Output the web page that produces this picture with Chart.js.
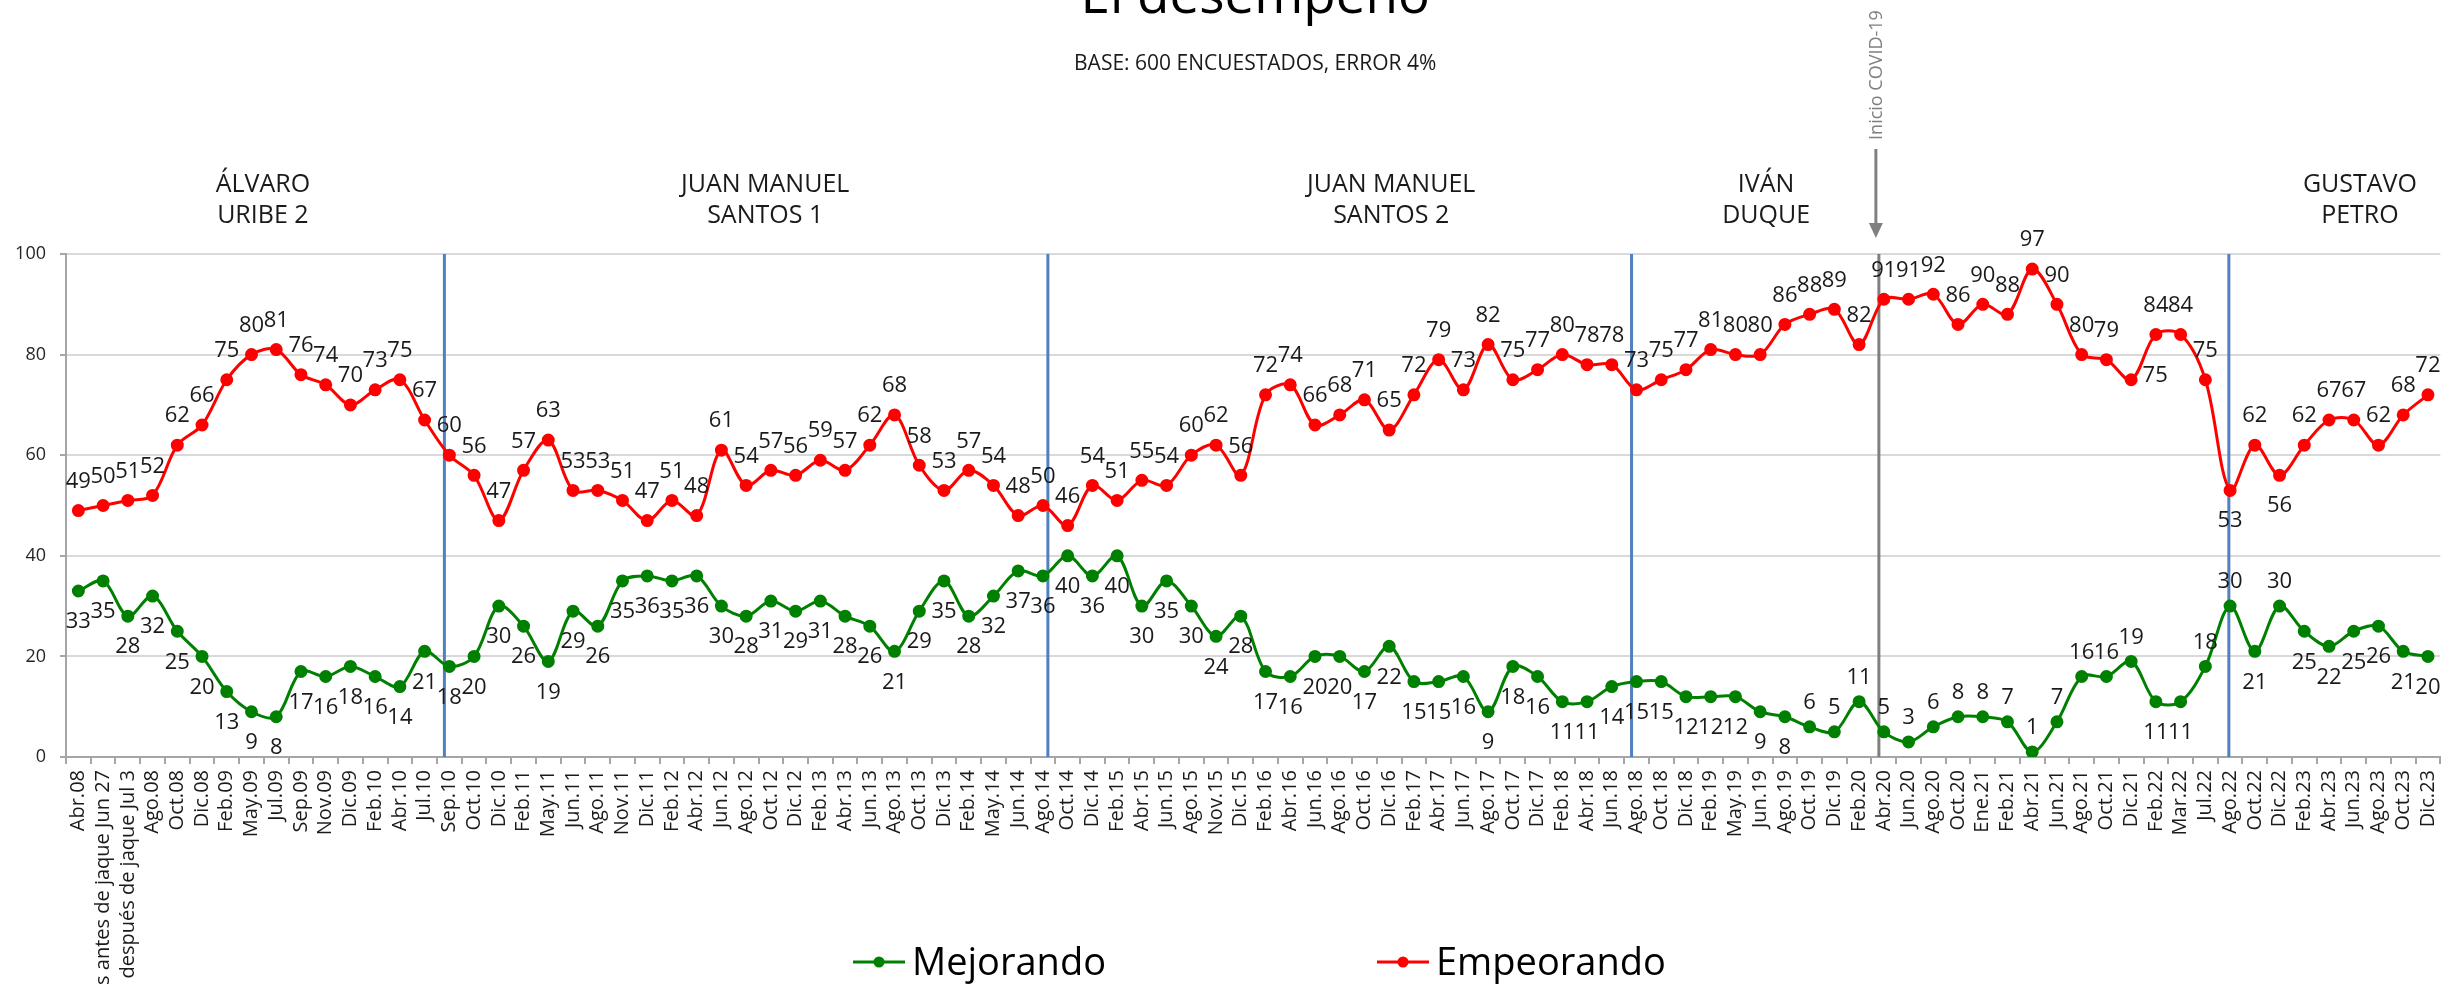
<!DOCTYPE html>
<html lang="es">
<head>
<meta charset="utf-8">
<title>El desempeño</title>
<script src="https://cdn.jsdelivr.net/npm/chart.js@4"></script>
<style>
    html, body { margin: 0; padding: 0; background: #fff; }
    #wrap { position: relative; width: 2458px; height: 984px; }
</style>
</head>
<body>
<div id="wrap"><canvas id="desempenoChart"></canvas></div>
<script>
// Survey dates (categories)
const fechas = [
    'Abr.08', 'Días antes de jaque Jun 27', 'Días después de jaque Jul 3', 'Ago.08', 'Oct.08', 'Dic.08',
    'Feb.09', 'May.09', 'Jul.09', 'Sep.09', 'Nov.09', 'Dic.09', 'Feb.10', 'Abr.10', 'Jul.10',
    'Sep.10', 'Oct.10', 'Dic.10', 'Feb.11', 'May.11', 'Jun.11', 'Ago.11', 'Nov.11', 'Dic.11',
    'Feb.12', 'Abr.12', 'Jun.12', 'Ago.12', 'Oct.12', 'Dic.12', 'Feb.13', 'Abr.13', 'Jun.13',
    'Ago.13', 'Oct.13', 'Dic.13', 'Feb.14', 'May.14', 'Jun.14', 'Ago.14', 'Oct.14', 'Dic.14',
    'Feb.15', 'Abr.15', 'Jun.15', 'Ago.15', 'Nov.15', 'Dic.15', 'Feb.16', 'Abr.16', 'Jun.16',
    'Ago.16', 'Oct.16', 'Dic.16', 'Feb.17', 'Abr.17', 'Jun.17', 'Ago.17', 'Oct.17', 'Dic.17',
    'Feb.18', 'Abr.18', 'Jun.18', 'Ago.18', 'Oct.18', 'Dic.18', 'Feb.19', 'May.19', 'Jun.19',
    'Ago.19', 'Oct.19', 'Dic.19', 'Feb.20', 'Abr.20', 'Jun.20', 'Ago.20', 'Oct.20', 'Ene.21',
    'Feb.21', 'Abr.21', 'Jun.21', 'Ago.21', 'Oct.21', 'Dic.21', 'Feb.22', 'Mar.22', 'Jul.22',
    'Ago.22', 'Oct.22', 'Dic.22', 'Feb.23', 'Abr.23', 'Jun.23', 'Ago.23', 'Oct.23', 'Dic.23'
];

// % que cree que las cosas van mejorando
const mejorando = [
    33, 35, 28, 32, 25, 20, 13, 9, 8, 17, 16, 18, 16, 14, 21,
    18, 20, 30, 26, 19, 29, 26, 35, 36, 35, 36, 30, 28, 31, 29,
    31, 28, 26, 21, 29, 35, 28, 32, 37, 36, 40, 36, 40, 30, 35,
    30, 24, 28, 17, 16, 20, 20, 17, 22, 15, 15, 16, 9, 18, 16,
    11, 11, 14, 15, 15, 12, 12, 12, 9, 8, 6, 5, 11, 5, 3,
    6, 8, 8, 7, 1, 7, 16, 16, 19, 11, 11, 18, 30, 21, 30,
    25, 22, 25, 26, 21, 20
];

// % que cree que las cosas van empeorando
const empeorando = [
    49, 50, 51, 52, 62, 66, 75, 80, 81, 76, 74, 70, 73, 75, 67,
    60, 56, 47, 57, 63, 53, 53, 51, 47, 51, 48, 61, 54, 57, 56,
    59, 57, 62, 68, 58, 53, 57, 54, 48, 50, 46, 54, 51, 55, 54,
    60, 62, 56, 72, 74, 66, 68, 71, 65, 72, 79, 73, 82, 75, 77,
    80, 78, 78, 73, 75, 77, 81, 80, 80, 86, 88, 89, 82, 91, 91,
    92, 86, 90, 88, 97, 90, 80, 79, 75, 84, 84, 75, 53, 62, 56,
    62, 67, 67, 62, 68, 72
];

const yTicks = [0, 20, 40, 60, 80, 100];

// Government periods, placed on the category axis (fractional index)
const presidentes = [
    { lineas: ['ÁLVARO', 'URIBE 2'], en: 7.46 },
    { lineas: ['JUAN MANUEL', 'SANTOS 1'], en: 27.77 },
    { lineas: ['JUAN MANUEL', 'SANTOS 2'], en: 53.08 },
    { lineas: ['IVÁN', 'DUQUE'], en: 68.24 },
    { lineas: ['GUSTAVO', 'PETRO'], en: 92.25 }
];
const cambiosGobierno = [14.8, 39.2, 62.8, 86.95];
const inicioCovid = 72.8;

// Data label placement exceptions
const rojoAbajo = [87, 89];
const rojoDerecha = [83];
const verdeArriba = [70, 71, 72, 73, 74, 75, 76, 77, 78, 79, 80, 81, 82, 83, 86, 87, 89];

const FONT = "'Open Sans', 'DejaVu Sans', sans-serif";
const VERDE = '#008000';
const ROJO = '#ff0000';

Chart.defaults.font.family = FONT;

const anotaciones = {
    id: 'anotaciones',
    beforeDatasetsDraw(chart) {
        const { ctx, chartArea, scales: { x } } = chart;
        ctx.save();
        ctx.lineWidth = 3;
        ctx.strokeStyle = '#4f81bd';
        cambiosGobierno.forEach(pos => {
            const px = x.getPixelForValue(pos);
            ctx.beginPath();
            ctx.moveTo(px, chartArea.top);
            ctx.lineTo(px, chartArea.bottom);
            ctx.stroke();
        });
        ctx.strokeStyle = '#808080';
        const cx = x.getPixelForValue(inicioCovid);
        ctx.beginPath();
        ctx.moveTo(cx, chartArea.top);
        ctx.lineTo(cx, chartArea.bottom);
        ctx.stroke();
        ctx.restore();
    },
    afterDatasetsDraw(chart) {
        const { ctx } = chart;
        ctx.save();
        ctx.font = '22px ' + FONT;
        ctx.fillStyle = '#1a1a1a';
        ctx.textAlign = 'center';
        ctx.textBaseline = 'middle';
        chart.data.datasets.forEach((ds, i) => {
            const meta = chart.getDatasetMeta(i);
            const esRojo = ds.borderColor === ROJO;
            meta.data.forEach((pt, j) => {
                let dx = 0, dy;
                if (esRojo) {
                    dy = -29;
                    if (rojoAbajo.includes(j)) dy = 30;
                    if (rojoDerecha.includes(j)) { dx = 24; dy = -4; }
                } else {
                    dy = verdeArriba.includes(j) ? -24 : 31;
                }
                ctx.fillText(String(ds.data[j]), pt.x + dx, pt.y + dy);
            });
        });
        ctx.restore();
    },
    afterDraw(chart) {
        const { ctx, chartArea, scales: { x } } = chart;
        const centro = (chartArea.left + chartArea.right) / 2 + 2;
        ctx.save();
        ctx.textAlign = 'center';
        ctx.textBaseline = 'alphabetic';

        // Title (partly above the page) and subtitle
        ctx.fillStyle = '#000';
        ctx.font = '53px ' + FONT;
        ctx.fillText('El desempeño', centro, 13);
        ctx.fillStyle = '#1a1a1a';
        ctx.font = '21px ' + FONT;
        ctx.fillText('BASE: 600 ENCUESTADOS, ERROR 4%', centro, 70);

        // Presidents
        ctx.font = '25px ' + FONT;
        presidentes.forEach(p => {
            const px = x.getPixelForValue(p.en);
            ctx.fillText(p.lineas[0], px, 192);
            ctx.fillText(p.lineas[1], px, 223);
        });

        // COVID marker: rotated text and arrow
        const cx = x.getPixelForValue(inicioCovid) - 3;
        ctx.fillStyle = '#808080';
        ctx.strokeStyle = '#808080';
        ctx.save();
        ctx.translate(cx + 6, 75);
        ctx.rotate(-Math.PI / 2);
        ctx.font = '18px ' + FONT;
        ctx.textBaseline = 'alphabetic';
        ctx.fillText('Inicio COVID-19', 0, 0);
        ctx.restore();
        ctx.lineWidth = 3;
        ctx.beginPath();
        ctx.moveTo(cx, 149);
        ctx.lineTo(cx, 226);
        ctx.stroke();
        ctx.beginPath();
        ctx.moveTo(cx - 7, 223);
        ctx.lineTo(cx + 7, 223);
        ctx.lineTo(cx, 238);
        ctx.closePath();
        ctx.fill();

        // Legend
        const items = [
            { texto: 'Mejorando', color: VERDE, x0: 853 },
            { texto: 'Empeorando', color: ROJO, x0: 1377 }
        ];
        ctx.font = '38px ' + FONT;
        ctx.textAlign = 'left';
        items.forEach(it => {
            ctx.strokeStyle = it.color;
            ctx.fillStyle = it.color;
            ctx.lineWidth = 3;
            ctx.beginPath();
            ctx.moveTo(it.x0, 962);
            ctx.lineTo(it.x0 + 52, 962);
            ctx.stroke();
            ctx.beginPath();
            ctx.arc(it.x0 + 26, 962, 5.5, 0, Math.PI * 2);
            ctx.fill();
            ctx.fillStyle = '#000';
            ctx.fillText(it.texto, it.x0 + 59, 975);
        });
        ctx.restore();
    }
};

new Chart(document.getElementById('desempenoChart'), {
    type: 'line',
    data: {
        labels: fechas,
        datasets: [
            {
                label: 'Mejorando',
                data: mejorando,
                borderColor: VERDE,
                backgroundColor: VERDE,
                pointBackgroundColor: VERDE,
                pointBorderColor: VERDE,
                borderWidth: 3,
                pointRadius: 5,
                tension: 0.33
            },
            {
                label: 'Empeorando',
                data: empeorando,
                borderColor: ROJO,
                backgroundColor: ROJO,
                pointBackgroundColor: ROJO,
                pointBorderColor: ROJO,
                borderWidth: 3,
                pointRadius: 5,
                tension: 0.33
            }
        ]
    },
    options: {
        responsive: true,
        maintainAspectRatio: false,
        animation: false,
        layout: {
            padding: { top: 254, right: 11, left: 0, bottom: 0 }
        },
        plugins: {
            legend: { display: false },
            tooltip: { enabled: false }
        },
        scales: {
            x: {
                offset: true,
                afterFit: (scale) => { scale.height = 227; },
                grid: {
                    display: true,
                    drawOnChartArea: false,
                    drawTicks: true,
                    tickLength: 7,
                    tickColor: '#a6a6a6',
                    lineWidth: 2,
                    offset: true
                },
                border: { color: '#a6a6a6', width: 2 },
                ticks: {
                    autoSkip: false,
                    minRotation: 90,
                    maxRotation: 90,
                    padding: 6,
                    color: '#1a1a1a',
                    font: { size: 20 }
                }
            },
            y: {
                min: 0,
                max: 100,
                afterFit: (scale) => { scale.width = 66; },
                afterBuildTicks: (scale) => { scale.ticks = yTicks.map(v => ({ value: v })); },
                grid: {
                    color: '#d9d9d9',
                    lineWidth: 2,
                    tickLength: 6,
                    tickColor: '#a6a6a6'
                },
                border: { color: '#a6a6a6', width: 2 },
                ticks: {
                    padding: 14,
                    color: '#262626',
                    font: { size: 18 }
                }
            }
        }
    },
    plugins: [anotaciones]
});
</script>
</body>
</html>
